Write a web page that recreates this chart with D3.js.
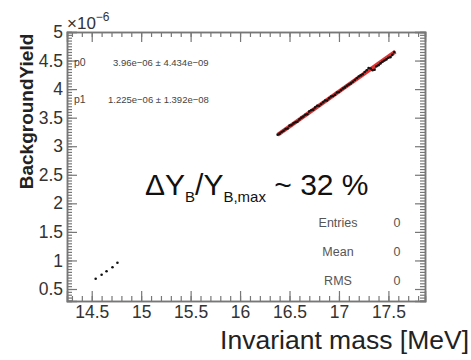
<!DOCTYPE html>
<html><head><meta charset="utf-8">
<script src="https://cdn.jsdelivr.net/npm/d3@7"></script>
<style>body{margin:0;background:#fff}svg{display:block}text{font-family:"Liberation Sans",Arial,sans-serif}</style>
</head><body>
<script>
// data (Background yield in units of 1e-6)
const lowX = [14.54, 14.60, 14.65, 14.71, 14.76];
const lowY = [0.68, 0.75, 0.81, 0.88, 0.96];
const highX = [16.38,16.40,16.42,16.44,16.46,16.48,16.50,16.52,16.54,16.56,16.58,16.60,16.62,16.64,16.66,16.68,16.70,16.72,16.74,16.76,16.78,16.80,16.82,16.84,16.86,16.88,16.90,16.92,16.94,16.96,16.98,17.00,17.02,17.04,17.06,17.08,17.10,17.12,17.14,17.16,17.18,17.20,17.22,17.24,17.26,17.28,17.30,17.32,17.34,17.36,17.38,17.40,17.42,17.44,17.46,17.48,17.50,17.52,17.54,17.56];
const highY = [3.20,3.22,3.25,3.27,3.30,3.31,3.36,3.37,3.40,3.42,3.43,3.47,3.50,3.52,3.55,3.56,3.61,3.63,3.64,3.68,3.71,3.71,3.74,3.77,3.80,3.80,3.84,3.87,3.88,3.90,3.94,3.95,3.98,4.01,4.03,4.06,4.08,4.10,4.13,4.16,4.19,4.22,4.24,4.26,4.30,4.33,4.37,4.36,4.33,4.34,4.40,4.42,4.45,4.48,4.50,4.52,4.55,4.56,4.60,4.65];
const fitParams = {p0: 3.96, p1: 1.225, x0: 17.0, xmin: 16.38, xmax: 17.57};
const xTicks = [14.5, 15, 15.5, 16, 16.5, 17, 17.5];
const yTicks = [0.5, 1, 1.5, 2, 2.5, 3, 3.5, 4, 4.5, 5];
const statsLabels = ["Entries", "Mean", "RMS"];
const statsValues = ["0", "0", "0"];
const parLabels = ["p0", "p1"];
const parValues = ["3.96e\u221206 \u00b1 4.434e\u221209", "1.225e\u221206 \u00b1 1.392e\u221208"];

const W = 471, H = 360;
const svg = d3.select("body").append("svg").attr("width", W).attr("height", H);
const L = 67, R = 425, T = 32, B = 301;
const x = d3.scaleLinear().domain([14.25, 17.87]).range([L, R]);
const y = d3.scaleLinear().domain([0.29, 5]).range([B, T]);
const axisCol = "#777";

function styleAxis(g, labels) {
  g.select(".domain").attr("stroke", axisCol).attr("stroke-width", 1.5);
  g.selectAll(".tick line").attr("stroke", axisCol).attr("stroke-width", 1.2);
  g.selectAll("text").attr("fill", labels ? "#333" : "none").attr("font-size", 17.5);
}
const xMinor = d3.range(14.3, 17.86, 0.1);
const yMinor = d3.range(0.3, 5.001, 0.05);

// bottom
svg.append("g").attr("transform", `translate(0,${B})`)
  .call(d3.axisBottom(x).tickValues(xMinor).tickSize(-5).tickFormat(""))
  .call(g => styleAxis(g, false));
svg.append("g").attr("transform", `translate(0,${B})`)
  .call(d3.axisBottom(x).tickValues(xTicks).tickSize(-10).tickPadding(5).tickFormat(d3.format("~g")))
  .call(g => styleAxis(g, true));
// top
svg.append("g").attr("transform", `translate(0,${T})`)
  .call(d3.axisTop(x).tickValues(xMinor).tickSize(-5).tickFormat(""))
  .call(g => styleAxis(g, false));
svg.append("g").attr("transform", `translate(0,${T})`)
  .call(d3.axisTop(x).tickValues(xTicks).tickSize(-10).tickFormat(""))
  .call(g => styleAxis(g, false));
// left
svg.append("g").attr("transform", `translate(${L},0)`)
  .call(d3.axisLeft(y).tickValues(yMinor).tickSize(-5).tickFormat(""))
  .call(g => styleAxis(g, false));
svg.append("g").attr("transform", `translate(${L},0)`)
  .call(d3.axisLeft(y).tickValues(yTicks).tickSize(-10).tickPadding(4).tickFormat(d3.format("~g")))
  .call(g => styleAxis(g, true));
// right
svg.append("g").attr("transform", `translate(${R},0)`)
  .call(d3.axisRight(y).tickValues(yMinor).tickSize(-5).tickFormat(""))
  .call(g => styleAxis(g, false));
svg.append("g").attr("transform", `translate(${R},0)`)
  .call(d3.axisRight(y).tickValues(yTicks).tickSize(-10).tickFormat(""))
  .call(g => styleAxis(g, false));

// x10^-6
const ex = svg.append("text").attr("x", L).attr("y", 29).attr("font-size", 17).attr("fill", "#333");
ex.append("tspan").text("\u00d710");
ex.append("tspan").attr("dy", -8).attr("font-size", 12).text("\u22126");

// fit line
const fitY = xv => fitParams.p0 + fitParams.p1 * (xv - fitParams.x0);
svg.append("line")
  .attr("x1", x(fitParams.xmin)).attr("y1", y(fitY(fitParams.xmin)))
  .attr("x2", x(fitParams.xmax)).attr("y2", y(fitY(fitParams.xmax)))
  .attr("stroke", "#d91c1c").attr("stroke-width", 4).attr("stroke-opacity", 0.9);

// points
const pts = lowX.map((v, i) => [v, lowY[i]]).concat(highX.map((v, i) => [v, highY[i]]));
svg.append("path")
  .attr("d", d3.line().x(d => x(d[0])).y(d => y(d[1]))(highX.map((v, i) => [v, highY[i]])))
  .attr("fill", "none").attr("stroke", "#111").attr("stroke-width", 0.8).attr("stroke-opacity", 0.8);
svg.append("g").selectAll("circle").data(pts).join("circle")
  .attr("cx", d => x(d[0])).attr("cy", d => y(d[1])).attr("r", 1.3).attr("fill", "#111");

// axis titles
svg.append("text").attr("transform", `translate(33,${(30 + 193) / 2}) rotate(-90)`)
  .attr("text-anchor", "middle").attr("font-size", 19).attr("font-weight", "bold").attr("fill", "#222")
  .text("BackgroundYield");
svg.append("text").attr("x", 469).attr("y", 349).attr("text-anchor", "end")
  .attr("font-size", 26.5).attr("fill", "#222").text("Invariant mass [MeV]");

// fit parameters
parLabels.forEach((p, i) => {
  svg.append("text").attr("x", 74).attr("y", 66 + i * 37).attr("font-size", 10.5).attr("fill", "#444").text(p);
  svg.append("text").attr("x", i === 0 ? 113 : 108).attr("y", 66 + i * 37).attr("font-size", 9.5).attr("fill", "#444").text(parValues[i]);
});

// stats box
statsLabels.forEach((s, i) => {
  svg.append("text").attr("x", 338).attr("y", 227 + i * 29).attr("text-anchor", "middle")
    .attr("font-size", 12.5).attr("fill", "#555").text(s);
  svg.append("text").attr("x", 397).attr("y", 227 + i * 29).attr("text-anchor", "middle")
    .attr("font-size", 12.5).attr("fill", "#555").text(statsValues[i]);
});

// annotation
const ann = svg.append("text").attr("x", 145).attr("y", 195).attr("font-size", 30).attr("fill", "#111");
ann.append("tspan").text("\u0394Y");
ann.append("tspan").attr("dy", 7).attr("font-size", 15).text("B");
ann.append("tspan").attr("dy", -7).text("/Y");
ann.append("tspan").attr("dy", 7).attr("font-size", 15).text("B,max");
ann.append("tspan").attr("dy", -7).text(" ~ 32 %");
</script>
</body></html>
